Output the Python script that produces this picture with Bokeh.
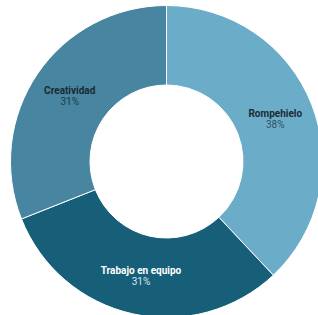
import numpy as np
from bokeh.plotting import figure
from bokeh.models import ColumnDataSource
from bokeh.core.properties import value
from bokeh.embed import file_html
from bokeh.resources import INLINE

categories = ["Rompehielo", "Trabajo en equipo", "Creatividad"]
shares = [38, 31, 31]
colors = ["#6badc9", "#175f79", "#4785a1"]
name_colors = ["#1b2a33", "#ffffff", "#1b2a33"]
pct_colors = ["#33505e", "#d8e6ec", "#1f3a48"]

vals = np.array(shares, dtype=float)
frac = vals / vals.sum()
cum = np.concatenate([[0], np.cumsum(frac)])
start = np.pi / 2 - cum[:-1] * 2 * np.pi
end = np.pi / 2 - cum[1:] * 2 * np.pi
mid = (start + end) / 2

r_in, r_out = 76.5, 156
r_lab = 117

src = ColumnDataSource(dict(cat=categories, start=start, end=end, color=colors))

p = figure(width=318, height=315, x_range=(-166, 152), y_range=(-154, 161),
           output_backend="svg", toolbar_location=None, min_border=0)
p.axis.visible = False
p.grid.visible = False
p.outline_line_color = None
p.background_fill_color = "white"

p.annular_wedge(x=0, y=0, inner_radius=r_in, outer_radius=r_out,
                start_angle="start", end_angle="end", direction="clock",
                fill_color="color", line_color="white", line_width=1, source=src)

lx = r_lab * np.cos(mid)
ly = r_lab * np.sin(mid)
lab = ColumnDataSource(dict(x=lx, y=ly, name=categories,
                            pct=[f"{int(v)}%" for v in shares],
                            nc=name_colors, pc=pct_colors))
p.text(x="x", y="y", text="name", source=lab, text_font=value("Roboto"),
       text_font_style="bold", text_font_size="10px", text_color="nc",
       text_align="center", text_baseline="middle", y_offset=-5)
p.text(x="x", y="y", text="pct", source=lab, text_font=value("Roboto"),
       text_font_size="10px", text_color="pc",
       text_align="center", text_baseline="middle", y_offset=6)

open("out.html", "w").write(file_html(p, INLINE))
